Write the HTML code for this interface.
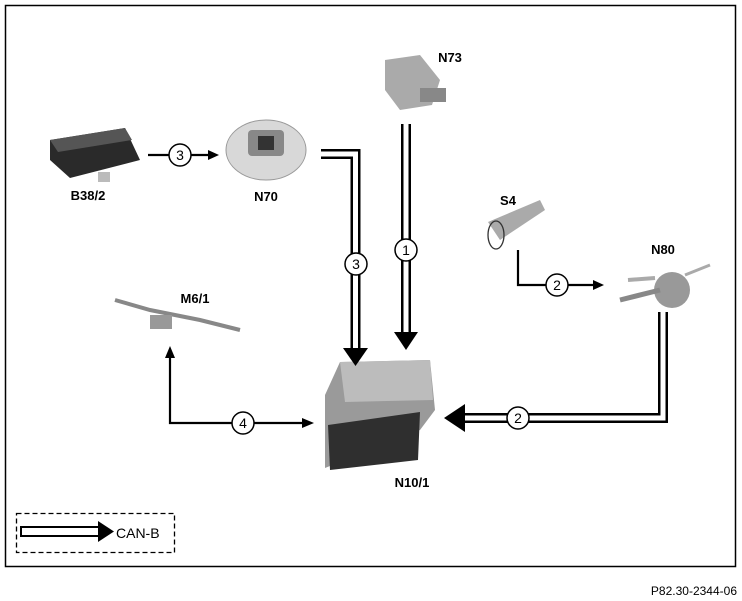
<!DOCTYPE html>
<html><head><style>
body{margin:0;background:#fff;width:742px;height:601px;overflow:hidden}
svg{display:block}
text{font-family:"Liberation Sans",Arial,sans-serif}
</style></head><body>
<svg width="742" height="601" viewBox="0 0 742 601">
<rect x="5.5" y="5.5" width="730" height="561" fill="#fff" stroke="#000" stroke-width="1.5"/>

<!-- B38/2 -->
<polygon points="50,140 125,128 140,160 70,178 50,160" fill="#2a2a2a"/>
<polygon points="50,140 125,128 132,140 58,152" fill="#555"/>
<rect x="98" y="172" width="12" height="10" fill="#bbb"/>
<text x="88" y="200" font-size="13" font-weight="bold" text-anchor="middle">B38/2</text>

<!-- N70 -->
<ellipse cx="266" cy="150" rx="40" ry="30" fill="#d8d8d8" stroke="#999"/>
<rect x="248" y="130" width="36" height="26" rx="4" fill="#888"/>
<rect x="258" y="136" width="16" height="14" fill="#333"/>
<text x="266" y="201" font-size="13" font-weight="bold" text-anchor="middle">N70</text>

<!-- N73 -->
<polygon points="385,60 420,55 440,80 432,105 400,110 385,90" fill="#aaa"/>
<rect x="420" y="88" width="26" height="14" fill="#888"/>
<text x="450" y="62" font-size="13" font-weight="bold" text-anchor="middle">N73</text>

<!-- S4 -->
<polygon points="488,222 540,200 545,210 500,240" fill="#aaa"/>
<ellipse cx="496" cy="235" rx="8" ry="14" fill="none" stroke="#333" stroke-width="1.3"/>
<text x="508" y="205" font-size="13" font-weight="bold" text-anchor="middle">S4</text>

<!-- N80 -->
<circle cx="672" cy="290" r="18" fill="#999"/>
<line x1="620" y1="300" x2="660" y2="290" stroke="#888" stroke-width="5"/>
<line x1="628" y1="280" x2="655" y2="278" stroke="#aaa" stroke-width="4"/>
<line x1="685" y1="275" x2="710" y2="265" stroke="#aaa" stroke-width="3"/>
<text x="663" y="254" font-size="13" font-weight="bold" text-anchor="middle">N80</text>

<!-- M6/1 -->
<polyline points="115,300 150,310 200,320 240,330" fill="none" stroke="#888" stroke-width="4"/>
<rect x="150" y="315" width="22" height="14" fill="#999"/>
<text x="195" y="303" font-size="13" font-weight="bold" text-anchor="middle">M6/1</text>

<!-- N10/1 -->
<polygon points="325,395 340,362 430,360 435,410 420,430 325,468" fill="#9a9a9a"/>
<polygon points="340,362 430,360 433,400 345,402" fill="#bcbcbc"/>
<polygon points="328,425 420,412 418,460 330,470" fill="#2f2f2f"/>
<text x="412" y="487" font-size="13" font-weight="bold" text-anchor="middle">N10/1</text>

<!-- double-line CAN arrows -->
<g fill="none" stroke-linejoin="miter">
<polyline points="321,154 355.5,154 355.5,350" stroke="#000" stroke-width="10"/>
<polyline points="321,154 355.5,154 355.5,350" stroke="#fff" stroke-width="5"/>
<polyline points="406,124 406,334" stroke="#000" stroke-width="10"/>
<polyline points="406,124 406,334" stroke="#fff" stroke-width="5"/>
<polyline points="663,312 663,418 464,418" stroke="#000" stroke-width="10"/>
<polyline points="663,312 663,418 464,418" stroke="#fff" stroke-width="5"/>
</g>
<polygon points="343,348 368,348 355.5,366" fill="#000"/>
<polygon points="394,332 418,332 406,350" fill="#000"/>
<polygon points="465,404 465,432 444,418" fill="#000"/>

<!-- thin arrows -->
<g stroke="#000" stroke-width="2.2" fill="none">
<line x1="148" y1="155" x2="210" y2="155"/>
<polyline points="518,250 518,285 595,285"/>
<polyline points="305,423 170,423 170,356"/>
</g>
<polygon points="208,150 219,155 208,160" fill="#000"/>
<polygon points="593,280 604,285 593,290" fill="#000"/>
<polygon points="302,418 314,423 302,428" fill="#000"/>
<polygon points="165,358 175,358 170,346" fill="#000"/>

<!-- circles -->
<g fill="#fff" stroke="#000" stroke-width="1.5">
<circle cx="180" cy="155" r="11"/>
<circle cx="356" cy="264" r="11"/>
<circle cx="406" cy="250" r="11"/>
<circle cx="557" cy="285" r="11"/>
<circle cx="518" cy="418" r="11"/>
<circle cx="243" cy="423" r="11"/>
</g>
<g font-size="14" text-anchor="middle">
<text x="180" y="160">3</text>
<text x="356" y="269">3</text>
<text x="406" y="255">1</text>
<text x="557" y="290">2</text>
<text x="518" y="423">2</text>
<text x="243" y="428">4</text>
</g>

<!-- legend -->
<rect x="16.5" y="513.5" width="158" height="39" fill="none" stroke="#000" stroke-width="1.3" stroke-dasharray="5,3"/>
<rect x="21" y="527" width="78" height="9" fill="#fff" stroke="#000" stroke-width="2"/>
<polygon points="98,521 114,531.5 98,542" fill="#000"/>
<text x="116" y="538" font-size="14">CAN-B</text>

<text x="737" y="595" font-size="12" text-anchor="end">P82.30-2344-06</text>
</svg>
</body></html>
